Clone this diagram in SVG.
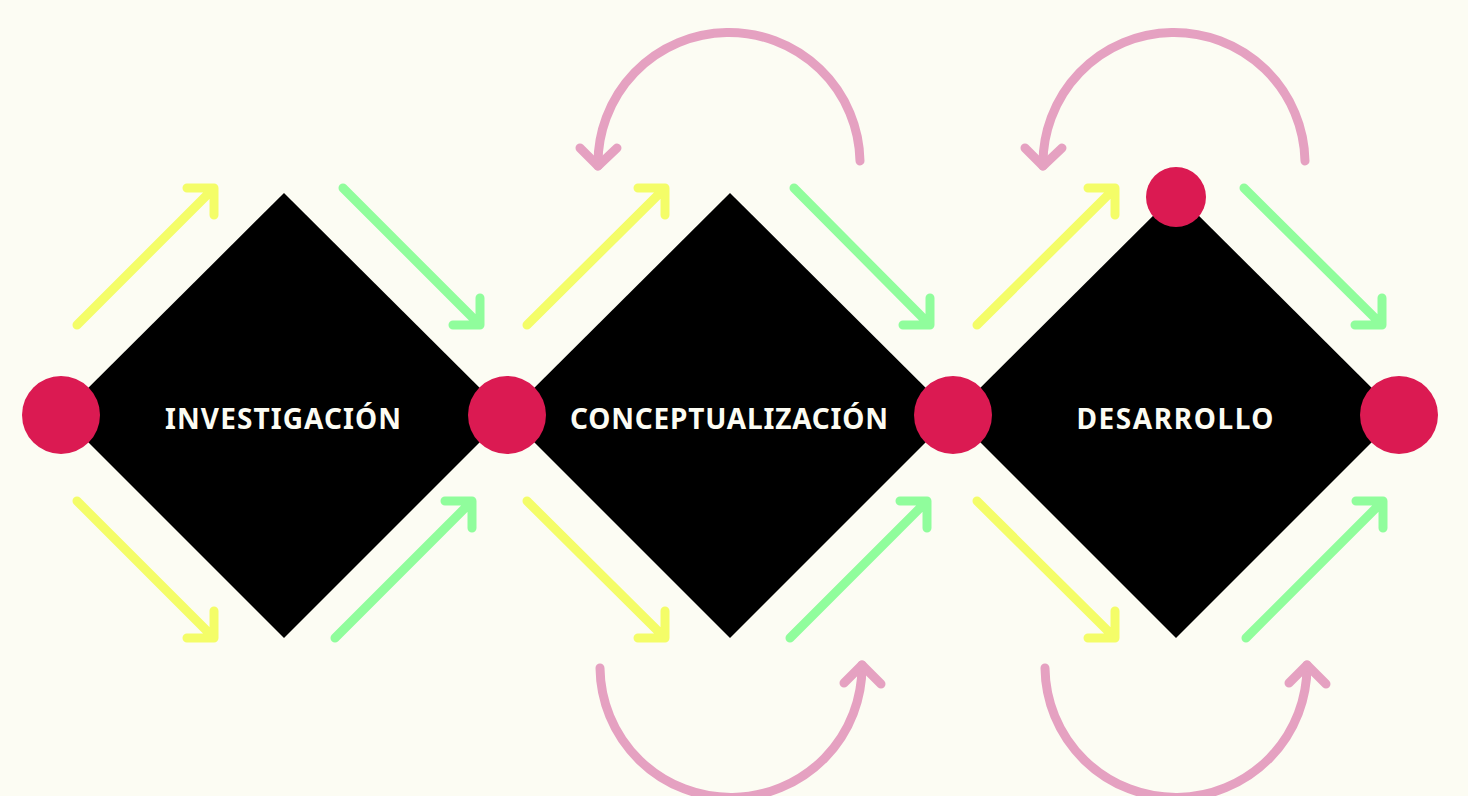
<svg xmlns="http://www.w3.org/2000/svg" width="1468" height="796" viewBox="0 0 1468 796">
<style>
.bg{fill:#fcfcf3}
.dia{fill:#000}
.dot{fill:#db1a52}
.lbl{fill:#fcfcf3;font-family:"Noto Sans","Open Sans",sans-serif;font-weight:bold;font-size:28px;text-anchor:middle}
.y{stroke:#f4fd68;stroke-width:9;fill:none;stroke-linecap:round;stroke-linejoin:round}
.g{stroke:#90fd9c;stroke-width:9;fill:none;stroke-linecap:round;stroke-linejoin:round}
.p{stroke:#e5a1c1;stroke-width:9;fill:none;stroke-linecap:round;stroke-linejoin:round}
</style>
<rect class="bg" x="0" y="0" width="1468" height="796"/>
<g id="node-investigacion">
<polygon class="dia" points="284,193 507,415 284,638 61,415"/>
<text class="lbl" x="283" y="429" textLength="236" lengthAdjust="spacing">INVESTIGACIÓN</text>
</g>
<g id="node-conceptualizacion">
<polygon class="dia" points="730,193 953,415 730,638 507,415"/>
<text class="lbl" x="729" y="429" textLength="318" lengthAdjust="spacing">CONCEPTUALIZACIÓN</text>
</g>
<g id="node-desarrollo">
<polygon class="dia" points="1176,193 1399,415 1176,638 953,415"/>
<text class="lbl" x="1175" y="429" textLength="197" lengthAdjust="spacing">DESARROLLO</text>
</g>
<g id="node-dot-1"><circle class="dot" cx="61" cy="415" r="39"/></g>
<g id="node-dot-2"><circle class="dot" cx="507" cy="415" r="39"/></g>
<g id="node-dot-3"><circle class="dot" cx="953" cy="415" r="39"/></g>
<g id="node-dot-4"><circle class="dot" cx="1399" cy="415" r="39"/></g>
<g id="node-dot-top"><circle class="dot" cx="1176" cy="197" r="30"/></g>
<g id="connectors">
<path class="y" d="M77,325 L214,188 M187,188 L214,188 L214,215"/>
<path class="g" d="M343,188 L480,325 M453,325 L480,325 L480,298"/>
<path class="y" d="M77,501 L214,638 M187,638 L214,638 L214,611"/>
<path class="g" d="M335,638 L472,501 M445,501 L472,501 L472,528"/>
<path class="y" d="M527,325 L665,188 M638,188 L665,188 L665,215"/>
<path class="g" d="M794,188 L930,325 M903,325 L930,325 L930,298"/>
<path class="y" d="M527,501 L665,638 M638,638 L665,638 L665,611"/>
<path class="g" d="M790,638 L927,501 M900,501 L927,501 L927,528"/>
<path class="y" d="M977,325 L1115,188 M1088,188 L1115,188 L1115,215"/>
<path class="g" d="M1244,188 L1382,325 M1355,325 L1382,325 L1382,298"/>
<path class="y" d="M977,501 L1115,638 M1088,638 L1115,638 L1115,611"/>
<path class="g" d="M1246,638 L1383,501 M1356,501 L1383,501 L1383,528"/>
<path class="p" d="M860,161 A131,131 0 0 0 598,166"/>
<path class="p" d="M580,148 L598,166 L617,148"/>
<path class="p" d="M600,668 A131,131 0 0 0 862,665"/>
<path class="p" d="M844,683 L862,665 L881,684"/>
<path class="p" d="M1305,161 A131,131 0 0 0 1043,166"/>
<path class="p" d="M1025,148 L1043,166 L1062,148"/>
<path class="p" d="M1045,668 A131,131 0 0 0 1307,665"/>
<path class="p" d="M1289,683 L1307,665 L1326,684"/>
</g>
</svg>
